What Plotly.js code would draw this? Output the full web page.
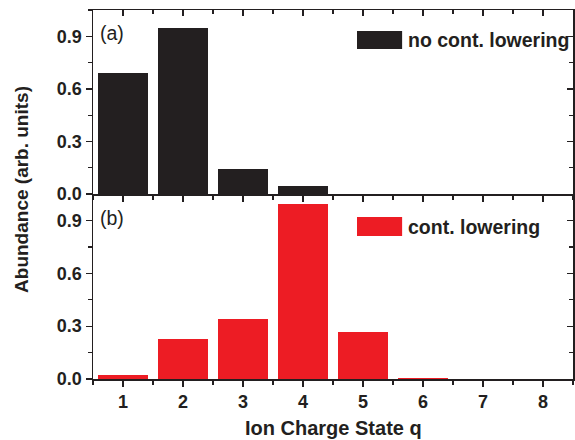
<!DOCTYPE html>
<html><head><meta charset="utf-8">
<script src="https://cdn.plot.ly/plotly-3.0.1.min.js"></script>
<style>html,body{margin:0;padding:0;background:#fff}#chart{width:575px;height:440px}</style>
</head><body><div id="chart"></div>
<script>
const chargeStates = [1, 2, 3, 4, 5, 6, 7, 8];
const noLowering = [0.693, 0.947, 0.143, 0.046, 0, 0, 0, 0];
const withLowering = [0.02, 0.227, 0.34, 0.995, 0.269, 0.006, 0, 0];
const yTicks = [0.0, 0.3, 0.6, 0.9];
const yTickText = ['0.0', '0.3', '0.6', '0.9'];
const xTicks = [1, 2, 3, 4, 5, 6, 7, 8];
const seriesNames = ['no cont. lowering', 'cont. lowering'];
const panelLabels = ['(a)', '(b)'];
const barColors = ['#231f20', '#ed1c24'];

const F = 'Liberation Sans, Arial, sans-serif';
const xr = [0.5, 8.5], yr = [0, 1.05];
const tickFont = {family: F, size: 18, color: '#231f20', weight: 'bold'};

const traces = [
  {type: 'bar', x: chargeStates, y: noLowering, xaxis: 'x2', yaxis: 'y2', width: 0.82,
   marker: {color: barColors[0], line: {width: 0}}, name: seriesNames[0], showlegend: false, hoverinfo: 'skip'},
  {type: 'bar', x: chargeStates, y: withLowering, xaxis: 'x', yaxis: 'y', width: 0.82,
   marker: {color: barColors[1], line: {width: 0}}, name: seriesNames[1], showlegend: false, hoverinfo: 'skip'},
  {type: 'scatter', x: [], y: [], xaxis: 'x3', yaxis: 'y3', showlegend: false},
  {type: 'scatter', x: [], y: [], xaxis: 'x3', yaxis: 'y4', showlegend: false}
];

const baseX = {range: xr, tickvals: xTicks, ticklen: 6, tickwidth: 1.3, tickcolor: '#231f20',
  showgrid: false, zeroline: false, showline: true, linecolor: '#231f20', linewidth: 1.5,
  minor: {tickvals: [0.5,1.5,2.5,3.5,4.5,5.5,6.5,7.5,8.5], ticklen: 4, tickwidth: 1.2, tickcolor: '#231f20', ticks: 'outside'}};
const baseY = {range: yr, tickvals: yTicks, ticktext: yTickText, ticklen: 6, tickwidth: 1.3, tickcolor: '#231f20',
  showgrid: false, zeroline: false, showline: true, linecolor: '#231f20', linewidth: 1.5,
  minor: {tickvals: [0.15, 0.45, 0.75, 1.05], ticklen: 4, tickwidth: 1.2, tickcolor: '#231f20', ticks: 'outside'}};

const layout = {
  width: 575, height: 440,
  margin: {l: 93, r: 2, t: 10, b: 61},
  paper_bgcolor: '#fff', plot_bgcolor: 'rgba(0,0,0,0)',
  showlegend: false,
  bargap: 0,
  xaxis: Object.assign({}, baseX, {anchor: 'y', ticks: 'outside', showticklabels: true, tickfont: tickFont}),
  xaxis2: Object.assign({}, baseX, {anchor: 'y2', ticks: 'outside', showticklabels: false}),
  xaxis3: Object.assign({}, baseX, {anchor: 'y2', overlaying: 'x', side: 'top', ticks: 'inside', showticklabels: false,
      minor: Object.assign({}, baseX.minor, {ticks: 'inside'})}),
  yaxis: Object.assign({}, baseY, {domain: [0, 0.501], anchor: 'x', ticks: 'outside', tickfont: tickFont}),
  yaxis2: Object.assign({}, baseY, {domain: [0.501, 1], anchor: 'x2', ticks: 'outside', tickfont: tickFont}),
  yaxis3: Object.assign({}, baseY, {overlaying: 'y', side: 'right', anchor: 'x3', ticks: 'inside', showticklabels: false,
      minor: Object.assign({}, baseY.minor, {ticks: 'inside'})}),
  yaxis4: Object.assign({}, baseY, {overlaying: 'y2', side: 'right', anchor: 'x3', ticks: 'inside', showticklabels: false,
      minor: Object.assign({}, baseY.minor, {ticks: 'inside'})}),
  shapes: [
    {type: 'rect', xref: 'paper', yref: 'paper', x0: 0.55, x1: 0.644, y0: 0.894, y1: 0.943,
     fillcolor: barColors[0], line: {width: 0}},
    {type: 'rect', xref: 'paper', yref: 'paper', x0: 0.55, x1: 0.644, y0: 0.3875, y1: 0.439,
     fillcolor: barColors[1], line: {width: 0}}
  ],
  annotations: [
    {xref: 'paper', yref: 'paper', x: 0.652, y: 0.918, xanchor: 'left', yanchor: 'middle', showarrow: false,
     text: '<b>' + seriesNames[0] + '</b>', font: {family: F, size: 19.5, color: '#231f20'}},
    {xref: 'paper', yref: 'paper', x: 0.652, y: 0.413, xanchor: 'left', yanchor: 'middle', showarrow: false,
     text: '<b>' + seriesNames[1] + '</b>', font: {family: F, size: 19.5, color: '#231f20'}},
    {xref: 'paper', yref: 'paper', x: 0.010, y: 0.938, xanchor: 'left', yanchor: 'middle', showarrow: false,
     text: panelLabels[0], font: {family: F, size: 19.5, color: '#231f20'}},
    {xref: 'paper', yref: 'paper', x: 0.010, y: 0.435, xanchor: 'left', yanchor: 'middle', showarrow: false,
     text: panelLabels[1], font: {family: F, size: 19.5, color: '#231f20'}},
    {xref: 'paper', yref: 'paper', x: 0.5, y: -0.133, xanchor: 'center', yanchor: 'middle', showarrow: false,
     text: '<b>Ion Charge State q</b>', font: {family: F, size: 20, color: '#231f20'}},
    {xref: 'paper', yref: 'paper', x: -0.148, y: 0.515, xanchor: 'center', yanchor: 'middle', showarrow: false, textangle: -90,
     text: '<b>Abundance (arb. units)</b>', font: {family: F, size: 19, color: '#231f20'}}
  ]
};
Plotly.newPlot('chart', traces, layout, {staticPlot: true, displayModeBar: false});
</script></body></html>
